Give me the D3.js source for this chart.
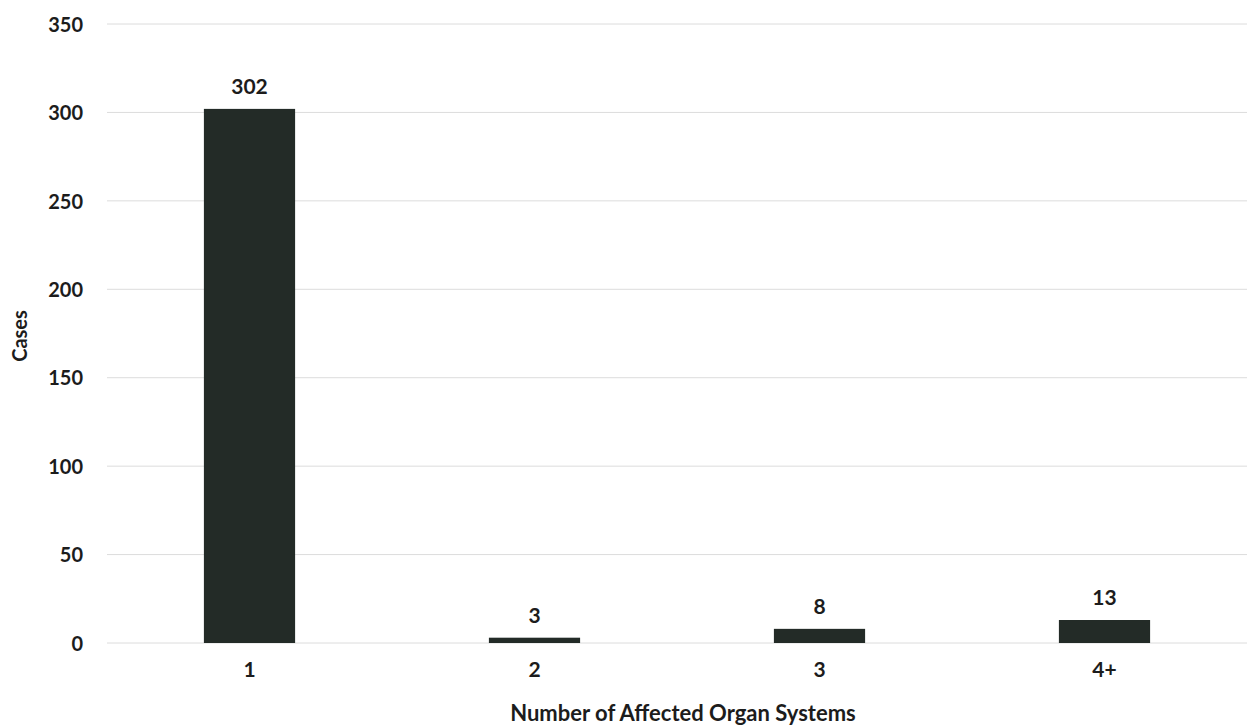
<!DOCTYPE html>
<html><head><meta charset="utf-8">
<script src="https://cdn.jsdelivr.net/npm/d3@7"></script>
<style>body{margin:0;background:#fff}svg text{font-family:Lato,sans-serif;font-weight:bold;fill:#1c1c1c}</style>
</head><body>
<svg id="c" width="1256" height="727"></svg>
<script>
const categories = ["1","2","3","4+"];
const cases = [302,3,8,13];
const yTicks = [0,50,100,150,200,250,300,350];

const W=1256,H=727, m={left:107,right:9,top:24,bottom:84};
const FONT='Lato,sans-serif';
const svg=d3.select("#c");
const x=d3.scaleBand().domain(categories).range([m.left,W-m.right]).paddingInner(0.68).paddingOuter(0.34);
const y=d3.scaleLinear().domain([0,350]).range([H-m.bottom,m.top]);

svg.append("g").selectAll("line.grid").data(yTicks).join("line").attr("class","grid")
 .attr("x1",m.left).attr("x2",W-m.right).attr("y1",d=>y(d)).attr("y2",d=>y(d))
 .attr("stroke","#dcdcdc").attr("stroke-width",1);

const ya=svg.append("g").attr("transform",`translate(${m.left-24},0)`)
 .call(d3.axisLeft(y).tickValues(yTicks).tickSize(0).tickPadding(0));
ya.select(".domain").remove();
ya.selectAll("text").attr("font-size",20).attr("dy","0.36em").style("font-family",FONT).style("font-weight","bold").attr("fill","#1c1c1c");

svg.selectAll("rect.bar").data(cases).join("rect").attr("class","bar")
 .attr("x",(d,i)=>x(categories[i])).attr("width",x.bandwidth())
 .attr("y",d=>y(d)).attr("height",d=>y(0)-y(d)).attr("fill","#232b27");

svg.selectAll("text.val").data(cases).join("text").attr("class","val")
 .attr("x",(d,i)=>x(categories[i])+x.bandwidth()/2).attr("y",d=>y(d)-15)
 .attr("text-anchor","middle").attr("font-size",21).text(d=>d);

const xa=svg.append("g").attr("transform",`translate(0,${y(0)+26})`)
 .call(d3.axisBottom(x).tickSize(0).tickPadding(0));
xa.select(".domain").remove();
xa.selectAll("text").attr("font-size",21).attr("dy","0.36em").style("font-family",FONT).style("font-weight","bold").attr("fill","#1c1c1c");

svg.append("text").attr("x",683).attr("y",721).attr("text-anchor","middle").attr("font-size",22).text("Number of Affected Organ Systems");
svg.append("text").attr("transform","translate(27,336) rotate(-90)").attr("text-anchor","middle").attr("font-size",20).text("Cases");
</script>
</body></html>
